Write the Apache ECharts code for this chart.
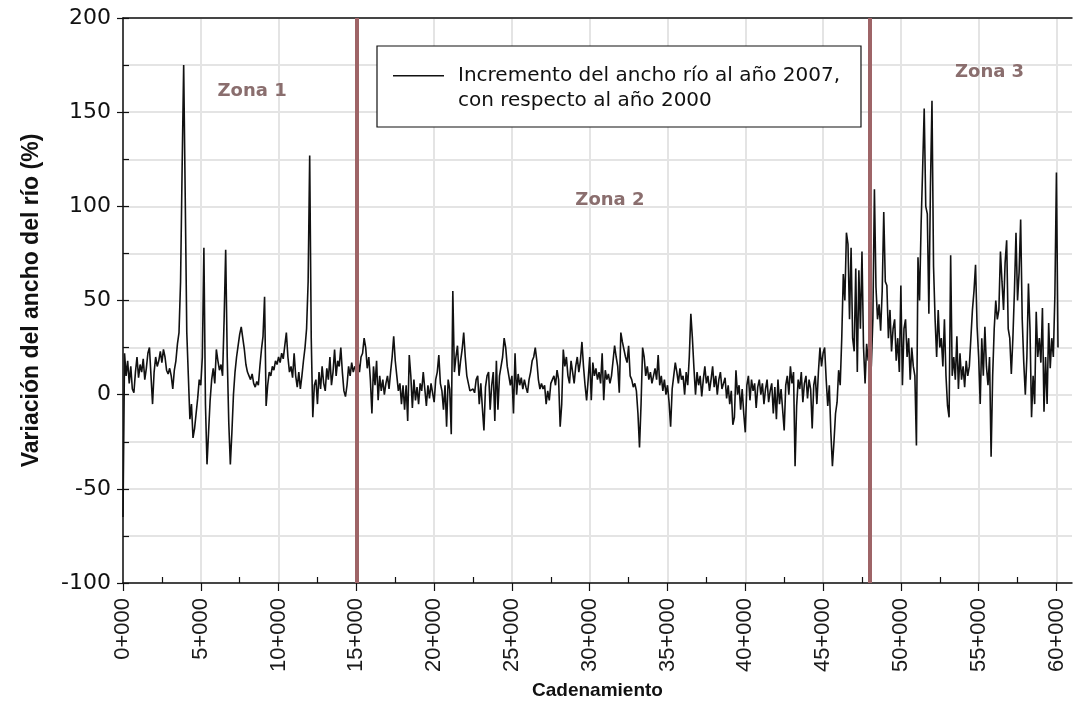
<!DOCTYPE html>
<html>
<head>
<meta charset="utf-8">
<script src="https://cdn.jsdelivr.net/npm/echarts@6/dist/echarts.min.js"></script>
<style>
html,body{margin:0;padding:0;background:#fff;}
#chart{width:1084px;height:724px;}
</style>
</head>
<body>
<div id="chart"></div>
<script>
// Sampling step along the river (km)
const stepKm = 0.1;
// Zone 1: 0+000 .. 14+900
const zone1Start = 0;
const zone1Values = [
  -65, 22, 10, 18, 6, 15, 3, 1, 12, 20,
  9, 16, 12, 19, 8, 14, 22, 25, 10, -5,
  12, 20, 15, 18, 23, 17, 24, 20, 13, 11,
  14, 10, 3, 13, 18, 27, 33, 60, 120, 175,
  105, 33, 10, -13, -5, -23, -18, -10, -2, 8,
  5, 20, 78, -5, -37, -20, -3, 8, 14, 6,
  24, 18, 13, 16, 10, 40, 77, 20, -15, -37,
  -20, 0, 12, 20, 26, 32, 36, 30, 24, 16,
  12, 10, 8, 11, 6, 4, 7, 5, 15, 24,
  31, 52, -6, 5, 12, 10, 15, 13, 18, 16,
  20, 17, 22, 19, 26, 33, 20, 12, 15, 9,
  22, 10, 4, 12, 3, 10, 18, 25, 35, 60,
  127, 30, -12, 5, 8, -5, 12, 3, 15, 6,
  2, 14, 8, 20, 5, 12, 24, 10, 18, 15,
  25, 12, 2, -1, 5, 15, 10, 17, 12, 15
];
// Zone 2: 15+000 .. 47+900
const zone2Start = 15;
const zone2Values = [
  13, 18, 12, 20, 22, 30, 25, 14, 20, 8,
  -10, 15, 5, 18, -3, 10, 2, 8, 0, 6,
  10, 3, 12, 20, 31, 18, 10, 2, 6, -5,
  5, -8, 5, -14, 21, 10, -7, 8, -3, 4,
  -5, 6, 2, 12, 3, -6, 5, -2, 6, 1,
  -4, 8, 12, 21, 6, 2, -8, 5, -17, 8,
  3, -21, 55, 12, 20, 26, 10, 18, 24, 33,
  20, 10, 6, 2, 1, 3, 1, 8, 10, -5,
  6, -7, -19, 4, 10, 12, -8, 5, 12, -14,
  18, -8, 10, 15, 20, 30, 25, 15, 10, 5,
  10, -10, 22, 0, 11, 5, 9, 3, 8, 4,
  1, 8, 12, 18, 20, 25, 18, 8, 3, 6,
  3, 5, -5, 2, -3, 6, 8, 10, 5, 13,
  8, -17, -5, 24, 15, 20, 10, 6, 18, 12,
  6, 15, 20, 12, 18, 28, 15, 5, -3, 8,
  20, -3, 17, 10, 14, 8, 12, 6, 22, -3,
  13, 8, 11, 6, 10, 18, 26, 20, 15, 1,
  33, 28, 24, 20, 17, 26, 10, 8, 4, 6,
  2, -10, -28, -5, 25, 20, 10, 15, 8, 12,
  6, 10, 14, 8, 21, 5, 10, 2, 8, 0,
  5, -4, -17, 3, 10, 17, 12, 6, 14, 8,
  10, 0, 12, 5, 20, 43, 30, 14, 0, 12,
  5, 10, -1, 8, 15, 6, 10, 2, 8, 15,
  4, 10, 0, 8, 12, 3, 6, 9, -2, 5,
  -5, 2, -16, -12, 13, 0, 5, -8, 3, -10,
  -20, 5, 10, -3, 8, 2, 6, -7, 4, 8,
  0, 6, -5, 3, 8, -4, 2, 6, -10, 4,
  -13, 8, -5, 3, -8, -19, 5, 10, 0, 15,
  6, 12, -38, -6, 8, 3, 12, -4, 6, 10,
  -2, 8, 3, -18, 5, 10, -5, 12, 25, 15,
  22, 25, 8, -6, 5, -20, -38, -25, -10, -4,
  13, 5, 30, 64, 50, 86, 80, 40, 78, 30,
  23, 67, 12, 66, 35, 76, 25, 6, 27, 18
];
// Zone 3: 48+000 .. 60+100
const zone3Start = 48;
const zone3Values = [
  25, 15, 40, 109, 57, 40, 48, 34, 55, 97,
  60, 58, 30, 45, 23, 35, 40, 18, 30, 12,
  58, 5, 35, 40, 20, 30, 8, 25, 15, 10,
  -27, 73, 50, 90, 120, 152, 100, 96, 43, 110,
  156, 68, 40, 20, 45, 25, 30, 15, 40, 10,
  -6, -12, 74, 10, 20, 8, 31, 3, 22, 8,
  15, 4, 18, 10, 15, 30, 45, 55, 69, 36,
  20, -5, 30, 10, 36, 15, 5, 20, -33, 10,
  35, 50, 40, 45, 76, 60, 45, 70, 82, 35,
  30, 11, 30, 55, 86, 50, 65, 93, 40, 17,
  0, 20, 59, 35, -12, 10, -5, 44, 20, 30,
  17, 46, -9, 20, -5, 38, 14, 30, 20, 53,
  118, 25
];
// Zone boundaries (km) and labels
const zoneBounds = [15, 48];
const zoneLabels = ['Zona 1', 'Zona 2', 'Zona 3'];
const zoneLabelPos = [[8.3, 161], [31.3, 103], [55.7, 171]];
// Axis ticks
const xLabelValues = [0, 5, 10, 15, 20, 25, 30, 35, 40, 45, 50, 55, 60];
const xMinorValues = [2.5, 7.5, 12.5, 17.5, 22.5, 27.5, 32.5, 37.5, 42.5, 47.5, 52.5, 57.5];
const seriesName = 'Incremento del ancho río al año 2007,\ncon respecto al año 2000';

function toPoints(start, vals) {
  return vals.map((v, i) => [Math.round((start + i * stepKm) * 10) / 10, v]);
}
const points = [].concat(
  toPoints(zone1Start, zone1Values),
  toPoints(zone2Start, zone2Values),
  toPoints(zone3Start, zone3Values)
);

const SANS = '"Liberation Sans", Arial, sans-serif';
const WIDE = '"DejaVu Sans", sans-serif';
const chart = echarts.init(document.getElementById('chart'), null, {renderer: 'canvas'});

const option = {
  backgroundColor: '#ffffff',
  animation: false,
  textStyle: {fontFamily: SANS},
  grid: {left: 123, right: 12, top: 18, bottom: 141, containLabel: false},
  legend: {
    show: true,
    left: 377,
    top: 46,
    orient: 'vertical',
    backgroundColor: '#ffffff',
    borderColor: '#111',
    borderWidth: 1.2,
    borderRadius: 0,
    padding: [17, 21, 14, 16],
    itemWidth: 60,
    itemHeight: 26,
    icon: 'path://M0,0H51V1.4H0Z M59.9,25.9H60V26H59.9Z',
    textStyle: {fontSize: 20, lineHeight: 25, color: '#111', fontFamily: WIDE},
    data: [seriesName]
  },
  xAxis: [
    {
      type: 'value', position: 'bottom', min: 0, max: 61,
      interval: 5,
      axisLine: {show: true, onZero: false, lineStyle: {color: '#111', width: 1.5}},
      axisTick: {show: true, inside: false, length: 8, customValues: xLabelValues, lineStyle: {color: '#111', width: 1.2}},
      axisLabel: {show: true, rotate: 90, margin: 15, fontSize: 22, color: '#1a1a1a', fontFamily: SANS,
        customValues: xLabelValues,
        formatter: v => v + '+000'},
      splitLine: {show: true, lineStyle: {color: '#e4e4e4', width: 2}},
      name: 'Cadenamiento', nameLocation: 'middle', nameGap: 98,
      nameTextStyle: {fontSize: 19, fontWeight: 'bold', color: '#111', fontFamily: SANS}
    },
    {
      type: 'value', position: 'bottom', min: 0, max: 61,
      axisLine: {show: false, onZero: false},
      axisTick: {show: true, inside: true, length: 6, customValues: xMinorValues, lineStyle: {color: '#111', width: 1.2}},
      axisLabel: {show: false},
      splitLine: {show: false}
    },
    {
      type: 'value', position: 'top', min: 0, max: 61,
      axisLine: {show: true, onZero: false, lineStyle: {color: '#111', width: 1.5}},
      axisTick: {show: false}, axisLabel: {show: false}, splitLine: {show: false}
    }
  ],
  yAxis: [
    {
      type: 'value', position: 'left', min: -100, max: 200, interval: 25,
      axisLine: {show: true, onZero: false, lineStyle: {color: '#111', width: 1.5}},
      axisTick: {show: true, inside: true, length: 6, lineStyle: {color: '#111', width: 1.2}},
      axisLabel: {show: true, margin: 12, fontSize: 22, color: '#111', fontFamily: WIDE,
        formatter: v => (v % 50 === 0 ? String(v) : '')},
      splitLine: {show: true, lineStyle: {color: '#e4e4e4', width: 2}},
      name: 'Variación del ancho del río (%)', nameLocation: 'middle', nameGap: 80,
      nameTextStyle: {fontSize: 23, fontWeight: 'bold', color: '#111', fontFamily: SANS}
    },
    {
      type: 'value', position: 'left', min: -100, max: 200, interval: 50,
      axisLine: {show: false, onZero: false},
      axisTick: {show: true, inside: false, length: 6, lineStyle: {color: '#111', width: 1.2}},
      axisLabel: {show: false},
      splitLine: {show: false}
    }
  ],
  series: [
    {
      name: seriesName,
      type: 'line',
      xAxisIndex: 0, yAxisIndex: 0,
      data: points,
      showSymbol: false,
      symbol: 'none',
      color: '#111',
      lineStyle: {color: '#111', width: 1.6},
      z: 3,
      markLine: {
        silent: true,
        symbol: ['none', 'none'],
        label: {show: false},
        lineStyle: {color: '#9e6467', width: 4, type: 'solid'},
        data: zoneBounds.map(v => ({xAxis: v})),
        z: 4
      },
      markPoint: {
        silent: true,
        symbol: 'circle',
        symbolSize: 0,
        label: {show: true, position: 'inside', formatter: '{b}', fontSize: 18, fontWeight: 'bold', color: '#8a6e6e', fontFamily: WIDE},
        data: zoneLabels.map((n, i) => ({name: n, coord: zoneLabelPos[i]}))
      }
    }
  ]
};
chart.setOption(option);
</script>
</body>
</html>
